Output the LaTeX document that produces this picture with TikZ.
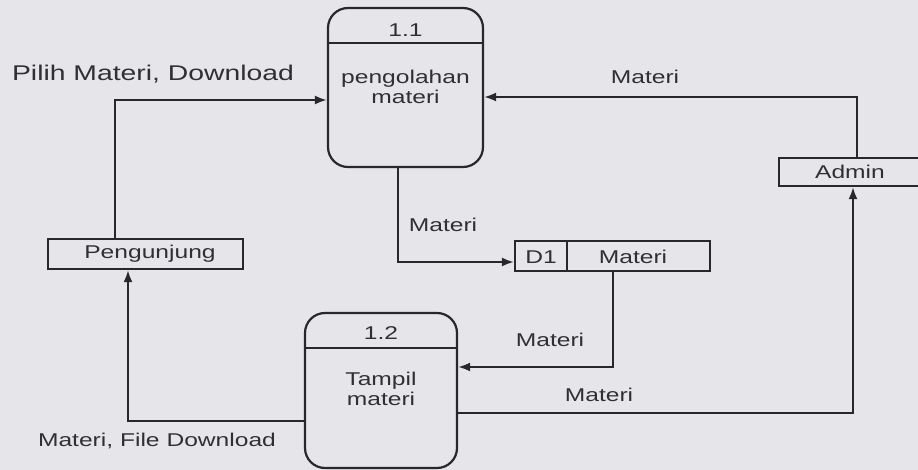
\documentclass[tikz,border=0pt]{standalone}
\usepackage{fontspec}
\setmainfont[FakeStretch=1.33]{Liberation Sans}
\usetikzlibrary{arrows.meta}
\definecolor{bgc}{RGB}{229,229,234}
\definecolor{ink}{RGB}{40,40,43}
\definecolor{txt}{RGB}{48,48,52}
\tikzset{
  every node/.style={text=txt, font=\fontsize{18.5}{20.5}\selectfont, inner sep=0pt},
  proc/.style={draw=ink, line width=2.2pt, rounded corners=20pt, rectangle},
  ent/.style={draw=ink, line width=2.2pt, rectangle},
  flow/.style={draw=ink, line width=2.2pt, -{Latex[length=12pt,width=9pt]}},
  divline/.style={draw=ink, line width=2.2pt},
  lbl/.style={text=txt},
  biglbl/.style={text=txt, font=\fontsize{21.3}{23}\selectfont}
}
\begin{document}
\begin{tikzpicture}[x=1pt,y=-1pt]
\useasboundingbox (0,0) rectangle (918,470);
\fill[bgc] (0,0) rectangle (918,470);
\clip (0,0) rectangle (918,470);

% processes
\node[proc, minimum width=155pt, minimum height=159pt] (p11) at (405.5,87.5) {};
\coordinate (d11) at (0,43);
\draw[divline] (p11.west |- d11) -- (p11.east |- d11);
\node (p11id) at (405.5,30) {1.1};
\node[align=center] (p11t) at (405.5,87) {pengolahan\\materi};

\node[proc, minimum width=152pt, minimum height=155pt] (p12) at (381,390.5) {};
\coordinate (d12) at (0,348);
\draw[divline] (p12.west |- d12) -- (p12.east |- d12);
\node (p12id) at (381,333) {1.2};
\node[align=center] (p12t) at (381,389) {Tampil\\materi};

% entities
\node[ent, minimum width=195pt, minimum height=30pt] (peng) at (145.5,254) {};
\node (pengt) at (150,254) {Pengunjung};
\node[ent, minimum width=151pt, minimum height=28pt] (admin) at (854.5,172) {};
\node (admint) at (850,172) {Admin};

% data store
\node[ent, minimum width=195pt, minimum height=30pt] (d1) at (612.5,256) {};
\coordinate (d1div) at (567,0);
\draw[divline] (d1.north -| d1div) -- (d1.south -| d1div);
\node (d1id) at (541,257) {D1};
\node (d1t) at (633,257) {Materi};

% flows
\coordinate (c1) at (115,100);
\draw[flow] (peng.north -| c1) |- (p11.west |- c1);
\coordinate (c2) at (857,97);
\draw[flow] (admin.north -| c2) |- (p11.east |- c2);
\coordinate (c3) at (398,262);
\draw[flow] (p11.south -| c3) |- (d1.west |- c3);
\coordinate (c4) at (613,367);
\draw[flow] (d1.south -| c4) |- (p12.east |- c4);
\coordinate (c5) at (853,413);
\draw[flow] (p12.east |- c5) -| (admin.south -| c5);
\coordinate (c6) at (128,421);
\draw[flow] (p12.west |- c6) -| (peng.south -| c6);

% labels
\node[biglbl] (l1) at (153,74) {Pilih Materi, Download};
\node[lbl] (l2) at (645,77) {Materi};
\node[lbl] (l3) at (443,225) {Materi};
\node[lbl] (l4) at (550,340) {Materi};
\node[lbl] (l5) at (599,395) {Materi};
\node[lbl] (l6) at (157,441) {Materi, File Download};
\end{tikzpicture}
\end{document}
